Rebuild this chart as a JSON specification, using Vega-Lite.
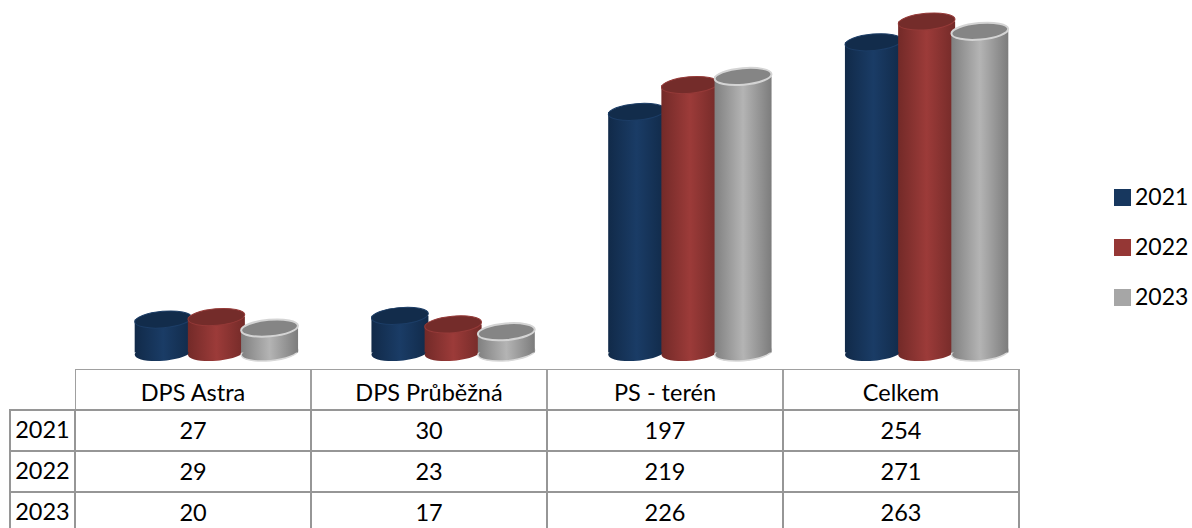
{"$schema":"https://vega.github.io/schema/vega-lite/v6.json","background":"white","padding":{"left":9,"top":0,"right":0,"bottom":0},"spacing":0,"config":{"view":{"stroke":null},"text":{"font":"Lato"},"concat":{"spacing":0}},
"datasets":{"d":[
{"category":"DPS Astra","year":"2021","value":27},{"category":"DPS Astra","year":"2022","value":29},{"category":"DPS Astra","year":"2023","value":20},
{"category":"DPS Průběžná","year":"2021","value":30},{"category":"DPS Průběžná","year":"2022","value":23},{"category":"DPS Průběžná","year":"2023","value":17},
{"category":"PS - terén","year":"2021","value":197},{"category":"PS - terén","year":"2022","value":219},{"category":"PS - terén","year":"2023","value":226},
{"category":"Celkem","year":"2021","value":254},{"category":"Celkem","year":"2022","value":271},{"category":"Celkem","year":"2023","value":263}],
"cats":[{"category":"DPS Astra","row":"h"},{"category":"DPS Průběžná","row":"h"},{"category":"PS - terén","row":"h"},{"category":"Celkem","row":"h"}],
"years":[{"year":"2021","col":"rok"},{"year":"2022","col":"rok"},{"year":"2023","col":"rok"}]},
"vconcat":[
{"width":1183,"height":369,"data":{"name":"d"},
"layer":[
{"mark":{"type":"bar","width":50},"encoding":{"x":{"field":"category","type":"nominal","sort":null,"axis":null,"scale":{"domain":["DPS Astra","DPS Průběžná","PS - terén","Celkem"],"range":[89,1036],"paddingInner":0.326,"paddingOuter":0.163}},"xOffset":{"field":"year","type":"nominal","scale":{"domain":["2021","2022","2023"],"paddingInner":0,"paddingOuter":0}},"y":{"field":"value","type":"quantitative","axis":null,"scale":{"domain":[0,271],"range":[352.5,21.5],"nice":false,"zero":true}},"y2":{"datum":0},"color":{"field":"year","type":"nominal","scale":{"domain":["2021","2022","2023"],"range":["#17375e","#953735","#a6a6a6"]},"legend":{"title":null,"orient":"none","legendX":1102,"legendY":186,"symbolType":"square","symbolSize":289,"symbolOpacity":1,"labelFont":"Lato","labelFontSize":23,"labelColor":"#000000","rowPadding":26,"labelOffset":1}}}},
{"transform":[{"filter":"datum.year=='2021'"}],"layer":[
{"mark":{"type":"point","filled":true,"opacity":1,"size":3249,"angle":-5,"shape":"M-1,0C-1,-0.16 -0.55,-0.29 0,-0.29C0.55,-0.29 1,-0.16 1,0C1,0.16 0.55,0.29 0,0.29C-0.55,0.29 -1,0.16 -1,0Z","fill":{"x1":0,"x2":1,"y1":0,"y2":0,"gradient":"linear","stops":[{"offset":0,"color":"#112a49"},{"offset":0.5,"color":"#1a3c66"},{"offset":1,"color":"#112a49"}]}},"encoding":{"x":{"field":"category","type":"nominal","sort":null},"xOffset":{"field":"year","type":"nominal"},"y":{"datum":0}}},
{"mark":{"type":"bar","width":57,"fill":{"x1":0,"x2":1,"y1":0,"y2":0,"gradient":"linear","stops":[{"offset":0,"color":"#112a49"},{"offset":0.5,"color":"#1a3c66"},{"offset":1,"color":"#112a49"}]}},"encoding":{"x":{"field":"category","type":"nominal","sort":null},"xOffset":{"field":"year","type":"nominal"},"y":{"field":"value","type":"quantitative"},"y2":{"datum":0}}},
{"mark":{"type":"point","filled":true,"opacity":1,"size":3249,"angle":-5,"fill":"#122c4b","stroke":"#1c3d66","strokeWidth":1,"shape":"M-1,0C-1,-0.16 -0.55,-0.29 0,-0.29C0.55,-0.29 1,-0.16 1,0C1,0.16 0.55,0.29 0,0.29C-0.55,0.29 -1,0.16 -1,0Z"},"encoding":{"x":{"field":"category","type":"nominal","sort":null},"xOffset":{"field":"year","type":"nominal"},"y":{"field":"value","type":"quantitative"}}}]},
{"transform":[{"filter":"datum.year=='2022'"}],"layer":[
{"mark":{"type":"point","filled":true,"opacity":1,"size":3249,"angle":-5,"shape":"M-1,0C-1,-0.16 -0.55,-0.29 0,-0.29C0.55,-0.29 1,-0.16 1,0C1,0.16 0.55,0.29 0,0.29C-0.55,0.29 -1,0.16 -1,0Z","fill":{"x1":0,"x2":1,"y1":0,"y2":0,"gradient":"linear","stops":[{"offset":0,"color":"#732a28"},{"offset":0.5,"color":"#9c3b39"},{"offset":1,"color":"#732a28"}]}},"encoding":{"x":{"field":"category","type":"nominal","sort":null},"xOffset":{"field":"year","type":"nominal"},"y":{"datum":0}}},
{"mark":{"type":"bar","width":57,"fill":{"x1":0,"x2":1,"y1":0,"y2":0,"gradient":"linear","stops":[{"offset":0,"color":"#732a28"},{"offset":0.5,"color":"#9c3b39"},{"offset":1,"color":"#732a28"}]}},"encoding":{"x":{"field":"category","type":"nominal","sort":null},"xOffset":{"field":"year","type":"nominal"},"y":{"field":"value","type":"quantitative"},"y2":{"datum":0}}},
{"mark":{"type":"point","filled":true,"opacity":1,"size":3249,"angle":-5,"fill":"#742c2a","stroke":"#953a38","strokeWidth":1,"shape":"M-1,0C-1,-0.16 -0.55,-0.29 0,-0.29C0.55,-0.29 1,-0.16 1,0C1,0.16 0.55,0.29 0,0.29C-0.55,0.29 -1,0.16 -1,0Z"},"encoding":{"x":{"field":"category","type":"nominal","sort":null},"xOffset":{"field":"year","type":"nominal"},"y":{"field":"value","type":"quantitative"}}}]},
{"transform":[{"filter":"datum.year=='2023'"}],"layer":[
{"mark":{"type":"point","filled":true,"opacity":1,"size":3249,"angle":-5,"stroke":"#d8d8d8","strokeWidth":1.5,"shape":"M-1,0C-1,-0.16 -0.55,-0.29 0,-0.29C0.55,-0.29 1,-0.16 1,0C1,0.16 0.55,0.29 0,0.29C-0.55,0.29 -1,0.16 -1,0Z","fill":{"x1":0,"x2":1,"y1":0,"y2":0,"gradient":"linear","stops":[{"offset":0,"color":"#808080"},{"offset":0.5,"color":"#b4b4b4"},{"offset":1,"color":"#7c7c7c"}]}},"encoding":{"x":{"field":"category","type":"nominal","sort":null},"xOffset":{"field":"year","type":"nominal"},"y":{"datum":0}}},
{"mark":{"type":"bar","width":57,"fill":{"x1":0,"x2":1,"y1":0,"y2":0,"gradient":"linear","stops":[{"offset":0,"color":"#808080"},{"offset":0.5,"color":"#b4b4b4"},{"offset":1,"color":"#7c7c7c"}]}},"encoding":{"x":{"field":"category","type":"nominal","sort":null},"xOffset":{"field":"year","type":"nominal"},"y":{"field":"value","type":"quantitative"},"y2":{"datum":0}}},
{"mark":{"type":"point","filled":true,"opacity":1,"size":3249,"angle":-5,"fill":"#858585","stroke":"#d4d4d4","strokeWidth":2,"shape":"M-1,0C-1,-0.16 -0.55,-0.29 0,-0.29C0.55,-0.29 1,-0.16 1,0C1,0.16 0.55,0.29 0,0.29C-0.55,0.29 -1,0.16 -1,0Z"},"encoding":{"x":{"field":"category","type":"nominal","sort":null},"xOffset":{"field":"year","type":"nominal"},"y":{"field":"value","type":"quantitative"}}}]}
]},
{"hconcat":[
{"width":66,"height":159,"data":{"name":"years"},"layer":[
{"mark":{"type":"rect","fill":"white","stroke":"#969696","strokeWidth":2,"clip":true},"encoding":{"x":{"field":"col","type":"nominal","axis":null,"scale":{"range":[1,66],"paddingInner":0,"paddingOuter":0}},"y":{"field":"year","type":"nominal","axis":null,"scale":{"domain":["h","2021","2022","2023"],"range":[0,164],"paddingInner":0,"paddingOuter":0}}}},
{"mark":{"type":"text","fontSize":23.5,"font":"Lato","color":"#000000","dy":0.5},"encoding":{"x":{"field":"col","type":"nominal"},"y":{"field":"year","type":"nominal"},"text":{"field":"year"}}}]},
{"width":946,"height":159,"layer":[
{"data":{"name":"cats"},"mark":{"type":"rect","fill":"white","stroke":"#a0a0a0","strokeWidth":2,"clip":true},"encoding":{"x":{"field":"category","type":"nominal","sort":null,"axis":null,"scale":{"domain":["DPS Astra","DPS Průběžná","PS - terén","Celkem"],"range":[0,944],"paddingInner":0,"paddingOuter":0}},"y":{"field":"row","type":"nominal","axis":null,"scale":{"domain":["h","2021","2022","2023"],"range":[0,164],"paddingInner":0,"paddingOuter":0}}}},
{"data":{"name":"d"},"mark":{"type":"rect","fill":"white","stroke":"#969696","strokeWidth":2,"clip":true},"encoding":{"x":{"field":"category","type":"nominal","sort":null},"y":{"field":"year","type":"nominal"}}},
{"data":{"name":"cats"},"mark":{"type":"text","fontSize":23.5,"font":"Lato","color":"#000000","dy":4},"encoding":{"x":{"field":"category","type":"nominal","sort":null},"y":{"field":"row","type":"nominal"},"text":{"field":"category"}}},
{"data":{"name":"d"},"mark":{"type":"text","fontSize":23.5,"font":"Lato","color":"#000000","dy":1},"encoding":{"x":{"field":"category","type":"nominal","sort":null},"y":{"field":"year","type":"nominal"},"text":{"field":"value","type":"quantitative"}}}
]}
]}
]}
